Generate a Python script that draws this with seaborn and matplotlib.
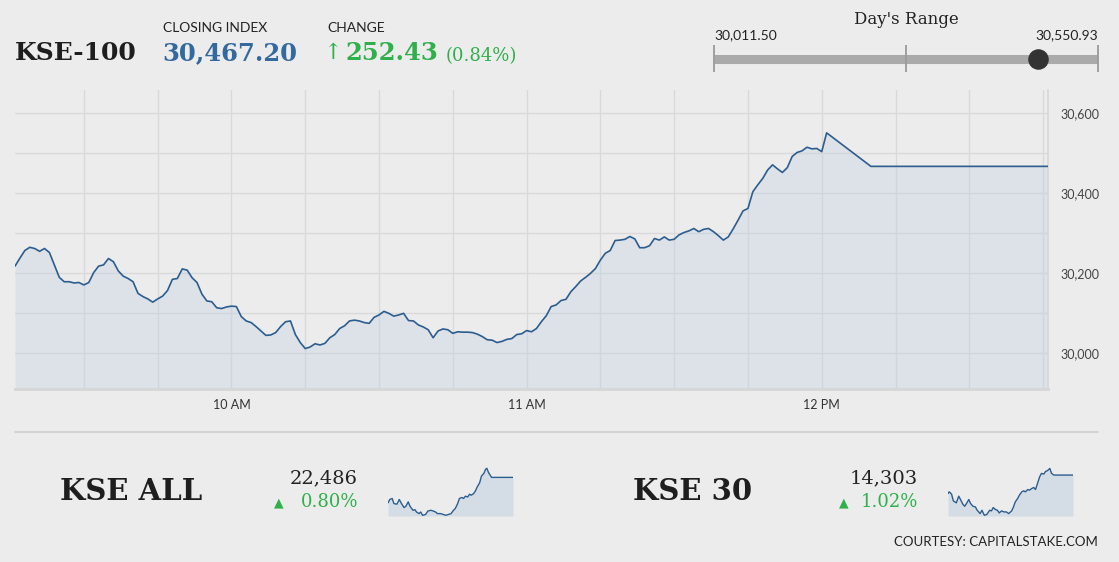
import numpy as np
import pandas as pd
import matplotlib
matplotlib.use("Agg")
import matplotlib.pyplot as plt
from matplotlib.ticker import MultipleLocator, FuncFormatter
from matplotlib.lines import Line2D
import seaborn as sns

# ---- data -------------------------------------------------------------
t09 = ["09:16", "09:17", "09:18", "09:19", "09:20", "09:21", "09:22", "09:23", "09:24", "09:25", "09:26", "09:27",
       "09:28", "09:29", "09:30", "09:31", "09:32", "09:33", "09:34", "09:35", "09:36", "09:37", "09:38", "09:39",
       "09:40", "09:41", "09:42", "09:43", "09:44", "09:45", "09:46", "09:47", "09:48", "09:49", "09:50", "09:51",
       "09:52", "09:53", "09:54", "09:55", "09:56", "09:57", "09:58", "09:59"]
v09 = [30218, 30238, 30257, 30265, 30262, 30255, 30262, 30252, 30221, 30190, 30179, 30179,
       30176, 30177, 30171, 30177, 30202, 30218, 30221, 30237, 30229, 30206, 30193, 30187,
       30179, 30150, 30142, 30136, 30128, 30136, 30143, 30157, 30185, 30187, 30211, 30208,
       30189, 30177, 30148, 30131, 30129, 30114, 30112, 30116]

t10 = ["10:00", "10:01", "10:02", "10:03", "10:04", "10:05", "10:06", "10:07", "10:08", "10:09", "10:10", "10:11",
       "10:12", "10:13", "10:14", "10:15", "10:16", "10:17", "10:18", "10:19", "10:20", "10:21", "10:22", "10:23",
       "10:24", "10:25", "10:26", "10:27", "10:28", "10:29", "10:30", "10:31", "10:32", "10:33", "10:34", "10:35",
       "10:36", "10:37", "10:38", "10:39", "10:40", "10:41", "10:42", "10:43", "10:44", "10:45", "10:46", "10:47",
       "10:48", "10:49", "10:50", "10:51", "10:52", "10:53", "10:54", "10:55", "10:56", "10:57", "10:58", "10:59"]
v10 = [30118, 30117, 30092, 30081, 30077, 30067, 30056, 30045, 30046, 30052, 30067, 30079,
       30081, 30047, 30027, 30012, 30016, 30024, 30021, 30025, 30039, 30047, 30062, 30069,
       30081, 30083, 30081, 30077, 30075, 30090, 30096, 30105, 30100, 30093, 30096, 30100,
       30082, 30081, 30071, 30066, 30059, 30039, 30056, 30061, 30059, 30050, 30054, 30053,
       30053, 30052, 30048, 30042, 30034, 30033, 30027, 30030, 30035, 30037, 30047, 30049]

t11 = ["11:00", "11:01", "11:02", "11:03", "11:04", "11:05", "11:06", "11:07", "11:08", "11:09", "11:10", "11:11",
       "11:12", "11:13", "11:14", "11:15", "11:16", "11:17", "11:18", "11:19", "11:20", "11:21", "11:22", "11:23",
       "11:24", "11:25", "11:26", "11:27", "11:28", "11:29", "11:30", "11:31", "11:32", "11:33", "11:34", "11:35",
       "11:36", "11:37", "11:38", "11:39", "11:40", "11:41", "11:42", "11:43", "11:44", "11:45", "11:46", "11:47",
       "11:48", "11:49", "11:50", "11:51", "11:52", "11:53", "11:54", "11:55", "11:56", "11:57", "11:58", "11:59"]
v11 = [30057, 30054, 30062, 30079, 30094, 30117, 30121, 30132, 30135, 30154, 30167, 30181,
       30190, 30200, 30212, 30233, 30250, 30257, 30282, 30283, 30285, 30292, 30286, 30264,
       30264, 30269, 30287, 30283, 30291, 30283, 30285, 30296, 30302, 30306, 30312, 30304,
       30310, 30312, 30304, 30294, 30283, 30291, 30311, 30333, 30356, 30362, 30404, 30421,
       30437, 30458, 30471, 30461, 30452, 30464, 30492, 30502, 30506, 30515, 30511, 30512]

t12 = ["12:00", "12:01", "12:10", "12:46"]
v12 = [30504, 30550.93, 30467.20, 30467.20]

closing_index = 30467.20
change = 252.43
change_pct = 0.84
day_low = 30011.50
day_high = 30550.93

# small indices
kse_all_times = ["09:16", "09:19", "09:23", "09:26", "09:31", "09:35", "09:38", "09:43", "09:46", "09:50",
                 "09:53", "09:58", "10:01", "10:04", "10:08", "10:11", "10:14", "10:19", "10:23", "10:28",
                 "10:32", "10:36", "10:39", "10:44", "10:48", "10:53", "10:57", "11:02", "11:06", "11:09",
                 "11:13", "11:16", "11:20", "11:23", "11:26", "11:30", "11:33", "11:36", "11:40", "11:43",
                 "11:46", "11:50", "11:53", "11:57", "12:00", "12:02", "12:05", "12:10", "12:46"]
kse_all_vals = [22307, 22331, 22338, 22302, 22298, 22331, 22307, 22274, 22283, 22314,
                22283, 22255, 22260, 22243, 22232, 22243, 22220, 22225, 22250, 22255,
                22250, 22243, 22232, 22232, 22227, 22220, 22225, 22232, 22255, 22267,
                22302, 22338, 22345, 22338, 22354, 22349, 22368, 22361, 22373, 22392,
                22420, 22448, 22495, 22514, 22543, 22550, 22519, 22486, 22486]

kse30_times = ["09:16", "09:18", "09:22", "09:25", "09:30", "09:34", "09:37", "09:41", "09:44", "09:47",
               "09:51", "09:54", "09:58", "10:02", "10:05", "10:10", "10:13", "10:17", "10:21", "10:26",
               "10:29", "10:32", "10:36", "10:39", "10:42", "10:46", "10:50", "10:54", "10:58", "11:03",
               "11:06", "11:09", "11:13", "11:16", "11:20", "11:23", "11:26", "11:30", "11:33", "11:36",
               "11:40", "11:43", "11:46", "11:50", "11:53", "11:57", "12:00", "12:03", "12:07", "12:10",
               "12:14", "12:46"]
kse30_vals = [14159, 14172, 14154, 14101, 14086, 14138, 14112, 14075, 14059, 14080,
              14112, 14080, 14059, 14054, 14028, 14002, 14028, 13989, 13994, 14028,
              14023, 14049, 14033, 14028, 14007, 14023, 14015, 14015, 14002, 14023,
              14054, 14093, 14120, 14146, 14172, 14180, 14172, 14190, 14185, 14196,
              14206, 14190, 14232, 14290, 14316, 14311, 14332, 14337, 14355, 14316,
              14303, 14303]

W, H = 1119, 562
BG = "#ececec"
LINE = "#2c5d8e"
FILL = "#c4d3e3"
GREEN = "#2fb04a"
BLUE = "#33699f"
SERIF = ["DejaVu Serif"]


def to_hours(times):
    return [int(t[:2]) + int(t[3:]) / 60 for t in times]


def px(x, y):
    return x / W, 1 - y / H


sns.set_theme(style="whitegrid")
plt.rcParams["font.family"] = ["Lato", "DejaVu Sans"]

df = pd.DataFrame({"hour": to_hours(t09 + t10 + t11 + t12), "value": v09 + v10 + v11 + v12})

fig = plt.figure(figsize=(W / 100, H / 100), dpi=100, facecolor=BG)

# ---- main chart -------------------------------------------------------
ax = fig.add_axes([15 / W, 1 - 389 / H, 1033 / W, 299 / H])
ax.set_facecolor(BG)
ymin, ymax = 29911, 30658
ax.fill_between(df["hour"], df["value"], ymin, color=FILL, alpha=0.4, lw=0, zorder=1)
sns.lineplot(data=df, x="hour", y="value", ax=ax, color=LINE, linewidth=1.2, estimator=None, zorder=3)
ax.set_xlim(df["hour"].iloc[0], df["hour"].iloc[-1])
ax.set_ylim(ymin, ymax)
ax.set_xlabel("")
ax.set_ylabel("")

ax.xaxis.set_major_locator(plt.FixedLocator([10, 11, 12]))
ax.xaxis.set_major_formatter(FuncFormatter(lambda v, p: {10: "10 AM", 11: "11 AM", 12: "12 PM"}.get(int(round(v)), "")))
ax.xaxis.set_minor_locator(MultipleLocator(0.25))
ax.yaxis.set_major_locator(MultipleLocator(200))
ax.yaxis.set_minor_locator(MultipleLocator(100))
ax.yaxis.set_major_formatter(FuncFormatter(lambda v, p: f"{v:,.0f}"))
ax.yaxis.tick_right()

ax.grid(which="both", color="#d9d9d9", linewidth=1.0)
ax.set_axisbelow(True)
for s in ["left", "top"]:
    ax.spines[s].set_visible(False)
ax.spines["right"].set_color("#d8d8d8")
ax.spines["bottom"].set_color("#d6d6d6")
ax.spines["bottom"].set_linewidth(2)
ax.tick_params(axis="x", which="major", length=5, width=1, color="#d6d6d6", pad=2.5,
               labelsize=9, labelcolor="#333333")
ax.tick_params(axis="x", which="minor", length=0)
ax.tick_params(axis="y", which="both", length=0, pad=9, labelsize=9, labelcolor="#444444")

# ---- header -----------------------------------------------------------
fig.text(*px(15, 53), "KSE-100", family=SERIF, weight="bold", fontsize=18, color="#1e1e1e", va="center")
fig.text(*px(163, 28), "CLOSING INDEX", fontsize=10, color="#222222", va="center")
fig.text(*px(162, 53), f"{closing_index:,.2f}", family=SERIF, weight="bold", fontsize=17.5,
         color=BLUE, va="center")
fig.text(*px(327, 28), "CHANGE", fontsize=10, color="#222222", va="center")
fig.text(*px(332, 53), "\u2191", family=SERIF, fontsize=16, color=GREEN, ha="center", va="center")
fig.text(*px(345, 53), f"{change:.2f}", family=SERIF, weight="bold", fontsize=17.5, color=GREEN, va="center")
fig.text(*px(446, 56), f"({change_pct:.2f}%)", family=SERIF, fontsize=13, color=GREEN, va="center")

fig.text(*px(906, 20), "Day's Range", family=SERIF, fontsize=12, color="#222222", ha="center", va="center")
fig.text(*px(714, 35), f"{day_low:,.2f}", fontsize=10, color="#222222", va="center")
fig.text(*px(1098, 35), f"{day_high:,.2f}", fontsize=10, color="#222222", ha="right", va="center")

rax = fig.add_axes([714 / W, 1 - 72 / H, 384 / W, 27 / H])
rax.set_facecolor(BG)
rax.plot([day_low, day_high], [0, 0], color="#aaaaaa", lw=6.5, solid_capstyle="butt", zorder=1)
rax.vlines([day_low, (day_low + day_high) / 2, day_high], -1, 1, color="#9a9a9a", lw=1.3, zorder=2, clip_on=False)
rax.scatter([closing_index], [0], s=190, color="#333333", zorder=3, clip_on=False)
rax.set_xlim(day_low, day_high)
rax.set_ylim(-1, 1)
rax.axis("off")

# ---- footer -----------------------------------------------------------
fig.add_artist(Line2D([15 / W, 1098 / W], [1 - 432 / H] * 2, color="#cfcfcf", lw=1.2))


def small_index(name, name_x, value, pct, val_right, tri_x, spark_left, times, vals, ylim):
    fig.text(*px(name_x, 491), name, family=SERIF, weight="bold", fontsize=21, color="#1e1e1e", va="center")
    fig.text(*px(val_right, 478), f"{value:,}", family=SERIF, fontsize=14, color="#222222",
             ha="right", va="center")
    fig.text(*px(tri_x, 503), "\u25b2", family=["DejaVu Sans"], fontsize=9, color=GREEN,
             ha="center", va="center")
    fig.text(*px(val_right, 502), f"{pct:.2f}%", family=SERIF, fontsize=13, color=GREEN,
             ha="right", va="center")
    sax = fig.add_axes([spark_left / W, 1 - 516 / H, 125 / W, 50 / H])
    sax.set_facecolor(BG)
    hrs = to_hours(times)
    sax.fill_between(hrs, vals, ylim[0], color=FILL, alpha=0.6, lw=0)
    sns.lineplot(x=hrs, y=vals, ax=sax, color=LINE, linewidth=1.0, estimator=None)
    sax.set_xlim(hrs[0], hrs[-1])
    sax.set_ylim(*ylim)
    sax.axis("off")


small_index("KSE ALL", 60, 22486, 0.80, 358, 279, 388, kse_all_times, kse_all_vals, (22215, 22566))
small_index("KSE 30", 633, 14303, 1.02, 918, 844, 948, kse30_times, kse30_vals, (13983, 14374))

fig.text(*px(1098, 542), "COURTESY: CAPITALSTAKE.COM", fontsize=9.5, color="#222222", ha="right", va="center")

fig.savefig("out.png", dpi=100, facecolor=BG)
